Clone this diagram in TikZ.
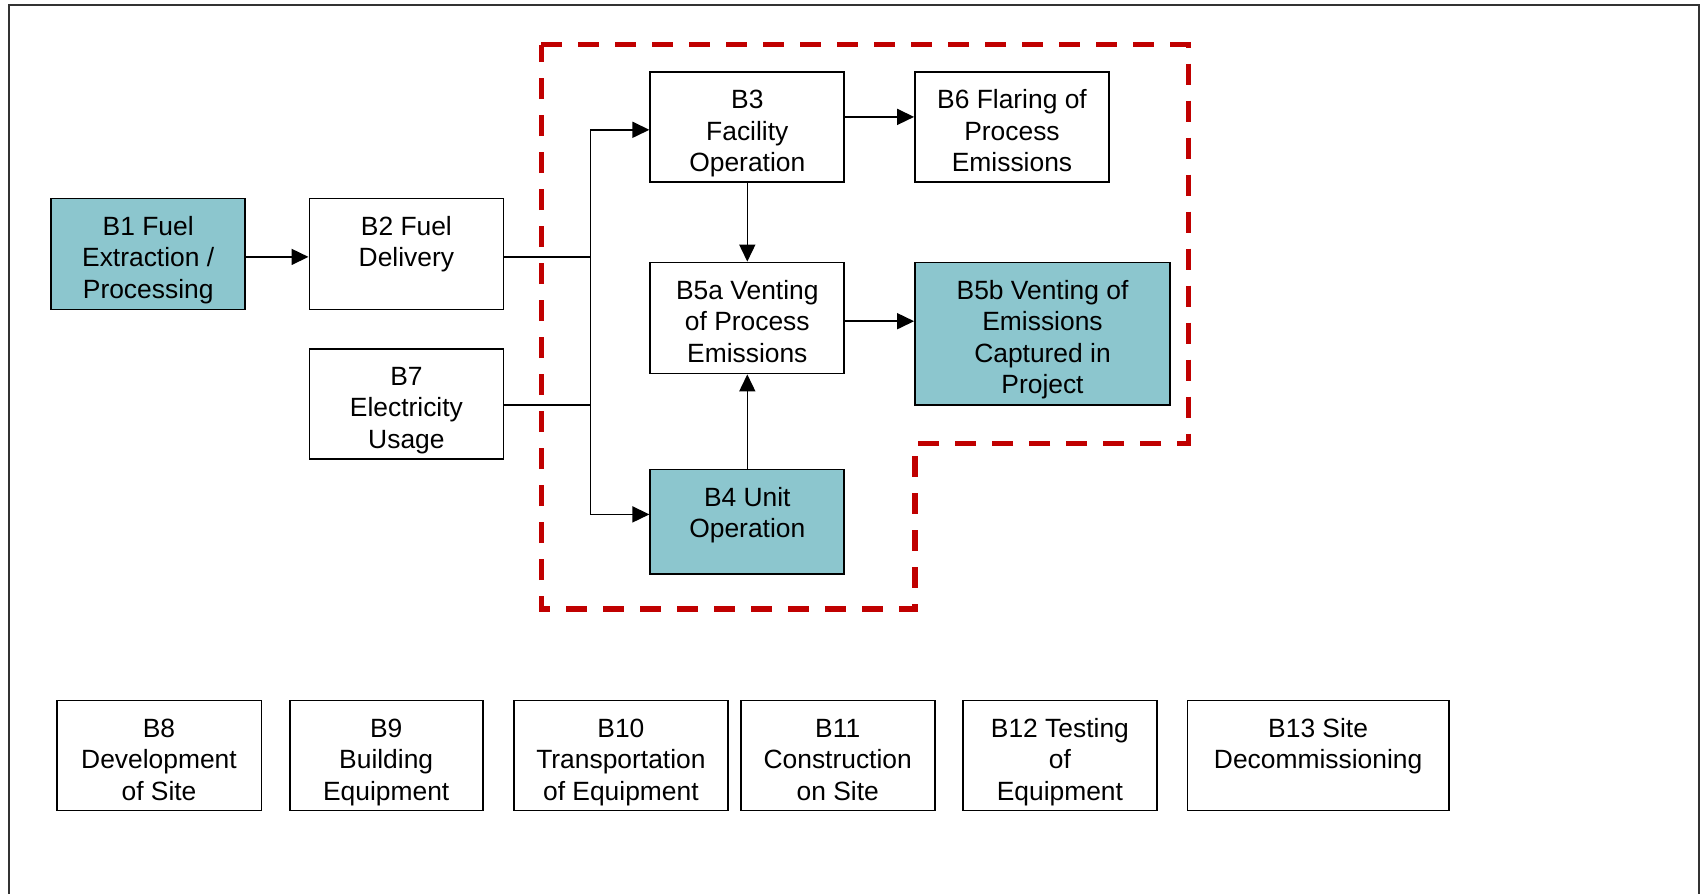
\documentclass[tikz,border=0pt]{standalone}
\usepackage{fontspec}
\setmainfont{Liberation Sans}
\usetikzlibrary{arrows.meta}

\definecolor{tealbox}{RGB}{140,198,206}
\definecolor{zonered}{RGB}{192,0,0}

% box text: width, height, lines (top aligned)
\newcommand{\boxtxt}[3]{\parbox[c][#2][t]{#1}{\centering\rule{0pt}{18.3pt}#3}}

\tikzset{
  blk/.style={draw=black, line width=0.9pt, inner sep=0pt, font=\fontsize{13.2}{15.8}\selectfont},
  hot/.style={blk, fill=tealbox},
  link/.style={draw=black, line width=0.8pt},
  arr/.style={link, -{Triangle[length=8.5pt,width=8pt]}},
  zone/.style={draw=zonered, line width=2.6pt, dash pattern=on 10.5pt off 8pt},
  frame/.style={draw=black!80, line width=1pt}
}

\begin{document}
\begin{tikzpicture}[x=0.5pt, y=0.5pt]
\useasboundingbox (0,0) rectangle (1708,-894);
\draw[frame] (8.7,-894) -- (8.7,-5.4) -- (1699,-5.4) -- (1699,-894);

% project boundary
\draw[zone] (541.4,-44.7) -- (1188.4,-44.7) -- (1188.4,-443.3) -- (915,-443.3) -- (915,-608.9) -- (541.4,-608.9) -- cycle;

% upper flow
\node[hot] (B1) at (148.2,-253.9) {\boxtxt{97pt}{55.5pt}{B1 Fuel\\Extraction /\\Processing}};
\node[blk] (B2) at (406.4,-253.9) {\boxtxt{97pt}{55.5pt}{B2 Fuel\\Delivery}};
\node[blk] (B7) at (406.4,-403.6) {\boxtxt{97pt}{55pt}{B7\\Electricity\\Usage}};
\node[blk] (B3) at (747.3,-126.9) {\boxtxt{97pt}{55pt}{B3\\Facility\\Operation}};
\node[blk] (B6) at (1012,-126.9) {\boxtxt{97pt}{55pt}{B6 Flaring of\\Process\\Emissions}};
\node[blk] (B5a) at (747.3,-318) {\boxtxt{97pt}{55.5pt}{B5a Venting\\of Process\\Emissions}};
\node[hot] (B5b) at (1042.5,-333.9) {\boxtxt{127.5pt}{71.4pt}{B5b Venting of\\Emissions\\Captured in\\Project}};
\node[hot] (B4) at (747.3,-521.8) {\boxtxt{97pt}{52.3pt}{B4 Unit\\Operation}};

% lower row
\node[blk] (B8) at (159,-755.4) {\boxtxt{102.4pt}{55pt}{B8\\Development\\of Site}};
\node[blk] (B9) at (386.2,-755.4) {\boxtxt{96.4pt}{55pt}{B9\\Building\\Equipment}};
\node[blk] (B10) at (620.9,-755.4) {\boxtxt{106.8pt}{55pt}{B10\\Transportation\\of Equipment}};
\node[blk] (B11) at (837.7,-755.4) {\boxtxt{97pt}{55pt}{B11\\Construction\\on Site}};
\node[blk] (B12) at (1059.9,-755.4) {\boxtxt{97pt}{55pt}{B12 Testing\\of\\Equipment}};
\node[blk] (B13) at (1318.1,-755.4) {\boxtxt{130.7pt}{55pt}{B13 Site\\Decommissioning}};

% connectors
\coordinate (bustop) at (590.4,-129.8);
\coordinate (busbot) at (590.4,-514.4);
\coordinate (v1) at ([yshift=-1.5pt]B1.east);
\coordinate (v3) at ([yshift=5pt]B3.east);
\coordinate (v5) at ([yshift=-1.6pt]B5a.east);
\draw[arr] (v1) -- (v1 -| B2.west);
\draw[link] (bustop) -- (busbot);
\draw[link] ([yshift=-1.5pt]B2.east) -- ([yshift=-1.5pt]B2.east -| bustop);
\draw[link] ([yshift=-0.8pt]B7.east) -- ([yshift=-0.8pt]B7.east -| bustop);
\draw[arr] (bustop) -- (bustop -| B3.west);
\draw[arr] (busbot) -- (busbot -| B4.west);
\draw[arr] (v3) -- (v3 -| B6.west);
\draw[arr] (B3.south) -- (B5a.north);
\draw[arr] (v5) -- (v5 -| B5b.west);
\draw[arr] (B4.north) -- (B5a.south);
\end{tikzpicture}
\end{document}
